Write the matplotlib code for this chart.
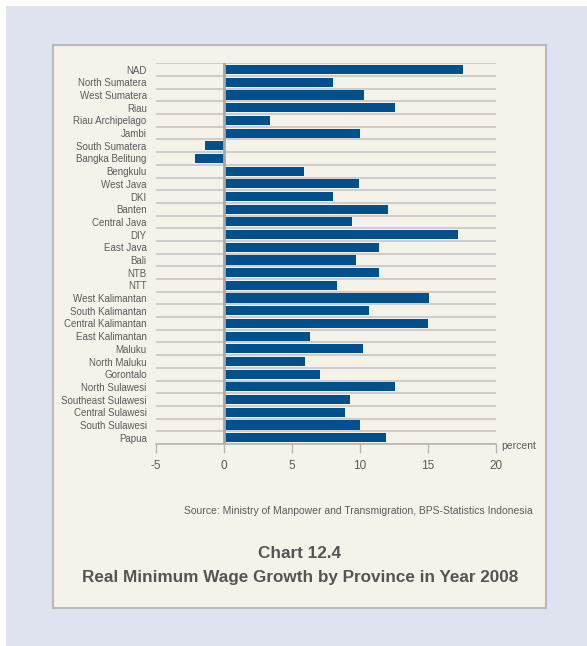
import numpy as np
import matplotlib.pyplot as plt
from matplotlib.patches import Rectangle

provinces = ["NAD", "North Sumatera", "West Sumatera", "Riau", "Riau Archipelago",
             "Jambi", "South Sumatera", "Bangka Belitung", "Bengkulu", "West Java",
             "DKI", "Banten", "Central Java", "DIY", "East Java", "Bali", "NTB", "NTT",
             "West Kalimantan", "South Kalimantan", "Central Kalimantan",
             "East Kalimantan", "Maluku", "North Maluku", "Gorontalo",
             "North Sulawesi", "Southeast Sulawesi", "Central Sulawesi",
             "South Sulawesi", "Papua"]
growth = [17.6, 8.0, 10.3, 12.6, 3.4, 10.0, -1.4, -2.1, 5.9, 9.9,
          8.0, 12.1, 9.4, 17.2, 11.4, 9.7, 11.4, 8.3, 15.1, 10.7,
          15.0, 6.3, 10.2, 6.0, 7.1, 12.6, 9.3, 8.9, 10.0, 11.9]
xticks = [-5, 0, 5, 10, 15, 20]

narrow = ['Liberation Sans Narrow', 'Liberation Sans', 'DejaVu Sans']
grey_txt = '#5a5a5a'

W, H = 587, 646
fig = plt.figure(figsize=(W / 100, H / 100), dpi=100)
fig.patch.set_facecolor('white')

def px(x0, y0, x1, y1):
    # pixel box (top-left origin) -> figure fraction rect
    return (x0 / W, 1 - y1 / H, (x1 - x0) / W, (y1 - y0) / H)

# lavender backdrop and cream panel, kept behind the axes
x, y, w, h = px(6, 6, W, H)
fig.patches.append(Rectangle((x, y), w, h, transform=fig.transFigure,
                             facecolor='#dfe3f0', edgecolor='none', zorder=-3))
x, y, w, h = px(53, 45, 546, 608)
fig.patches.append(Rectangle((x, y), w, h, transform=fig.transFigure,
                             facecolor='#f5f3e9', edgecolor='#b9b9b9', lw=1.5, zorder=-2))

ax = fig.add_axes(px(155.7, 63.3, 496, 444))
ax.set_facecolor('none')

n = len(provinces)
pos = np.arange(n)
ax.barh(pos, growth, height=0.72, color='#00508e', zorder=2)
ax.axvline(0, color='#a5a8ad', lw=2, zorder=3)

ax.set_xlim(-5, 20)
ax.set_ylim(n - 0.5, -0.5)
ax.set_yticks(pos)
ax.set_yticklabels(provinces, family=narrow, fontsize=7, color=grey_txt)
ax.set_yticks(np.arange(n + 1) - 0.5, minor=True)
ax.grid(which='minor', axis='y', color='#c6c6c6', lw=1.2)
ax.tick_params(axis='y', which='both', length=0, pad=6.5)

ax.set_xticks(xticks)
ax.set_xticklabels([str(t) for t in xticks], family=narrow, fontsize=8.5, color=grey_txt)
ax.tick_params(axis='x', length=6.5, width=1, color='#b5b5b5', pad=5)

for s in ['top', 'left', 'right']:
    ax.spines[s].set_visible(False)
ax.spines['bottom'].set_color('#b5b5b5')
ax.spines['bottom'].set_linewidth(1.2)

fig.text(501 / W, 1 - 446 / H, 'percent', family=narrow, fontsize=7.5,
         color=grey_txt, ha='left', va='center')
fig.text(532.7 / W, 1 - 510.7 / H,
         'Source: Ministry of Manpower and Transmigration, BPS-Statistics Indonesia',
         family=narrow, fontsize=7.45, color=grey_txt, ha='right', va='center')
fig.text(299 / W, 1 - 554 / H, 'Chart 12.4', family=narrow, fontsize=12.3,
         weight='bold', color='#555555', ha='center', va='center')
fig.text(300 / W, 1 - 577.3 / H, 'Real Minimum Wage Growth by Province in Year 2008',
         family=narrow, fontsize=12.3, weight='bold', color='#555555',
         ha='center', va='center')

fig.savefig('out.png', dpi=100, facecolor=fig.get_facecolor())
